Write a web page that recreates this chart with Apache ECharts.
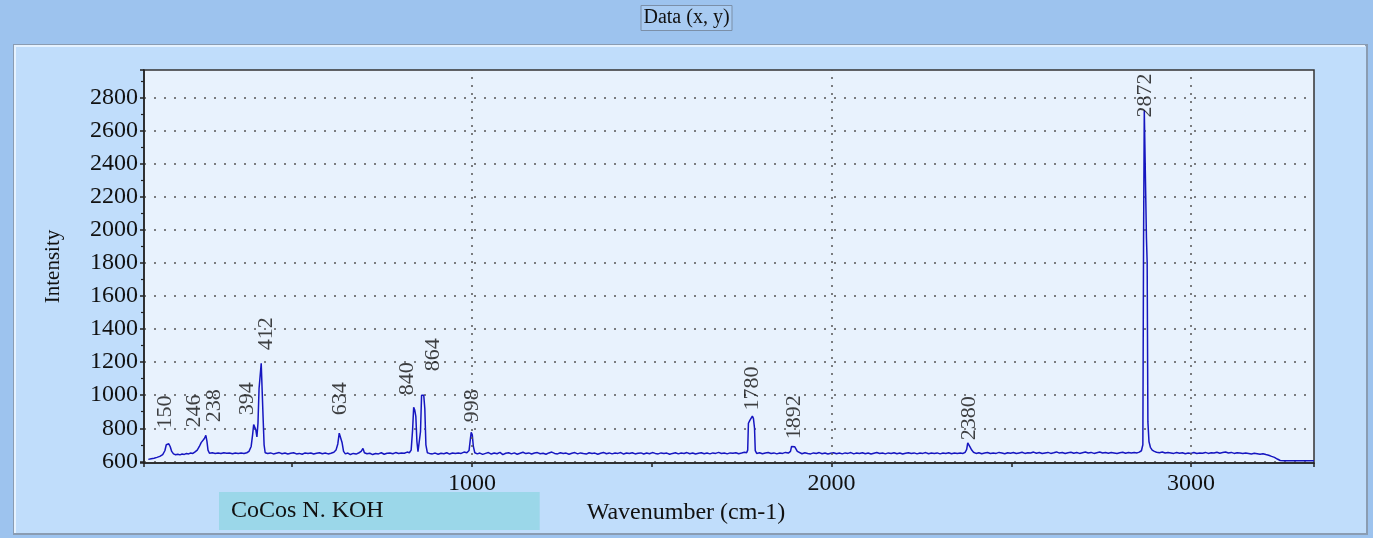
<!DOCTYPE html>
<html>
<head>
<meta charset="utf-8">
<title>Data (x, y)</title>
<script src="https://cdn.jsdelivr.net/npm/echarts/dist/echarts.min.js"></script>
<style>
  html, body { margin: 0; padding: 0; background: #9dc3ee; }
  #mChart { width: 1373px; height: 538px; }
</style>
</head>
<body>
<div id="mChart"></div>
<script>
  // spectrum: wavenumber (cm-1) and intensity
  let wavenumber = [
    100,108,116,124,132,140,146,150,153,157,161,165,170,176,182,188,194,200,206,212,218,224,230,236,242,247,252,256,260,263,266,270,
    278,286,294,302,310,318,326,334,342,350,358,366,374,380,386,390,393,396,399,402,405,408,411,414,417,419,422,425,
    432,440,448,456,464,472,480,488,496,504,512,520,528,536,544,552,560,568,576,584,592,600,608,616,622,627,631,635,639,643,648,
    655,662,670,678,686,692,697,701,708,716,724,732,740,748,756,764,772,780,788,796,804,812,820,826,831,835,838,841,844,847,850,854,857,860,866,869,872,876,
    882,890,898,906,914,922,930,938,946,954,962,970,978,986,992,996,998,1001,1004,1008,
    1015,1022,1030,1038,1046,1054,1062,1070,1078,1086,1094,1102,1110,1118,1126,1134,1142,1150,1158,1166,1174,1182,1190,1198,
    1206,1214,1222,1230,1238,1246,1254,1262,1270,1278,1286,1294,1302,1310,1318,1326,1334,1342,1350,1358,1366,1374,1382,1390,1398,
    1406,1414,1422,1430,1438,1446,1454,1462,1470,1478,1486,1494,1502,1510,1518,1526,1534,1542,1550,1558,1566,1574,1582,1590,1598,
    1606,1614,1622,1630,1638,1646,1654,1662,1670,1678,1686,1694,1702,1710,1718,1726,1734,1742,1750,1758,1764,1767,1769,1773,1777,1780,1783,1786,1788,1792,
    1800,1808,1816,1824,1832,1840,1848,1856,1864,1872,1880,1886,1889,1893,1898,1902,1905,1910,1918,1926,1934,1942,1950,1958,1966,1974,1982,1990,1998,
    2006,2014,2022,2030,2038,2046,2054,2062,2070,2078,2086,2094,2102,2110,2118,2126,2134,2142,2150,2158,2166,2174,2182,2190,2198,
    2206,2214,2222,2230,2238,2246,2254,2262,2270,2278,2286,2294,2302,2310,2318,2326,2334,2342,2350,2358,2366,2372,2376,2379,2382,2386,2390,2395,
    2402,2410,2418,2426,2434,2442,2450,2458,2466,2474,2482,2490,2498,2506,2514,2522,2530,2538,2546,2554,2562,2570,2578,2586,2594,
    2602,2610,2618,2626,2634,2642,2650,2658,2666,2674,2682,2690,2698,2706,2714,2722,2730,2738,2746,2754,2762,2770,2778,2786,2794,
    2802,2810,2818,2826,2834,2842,2850,2856,2862,2866,2868,2870,2874,2876,2878,2880,2883,2887,2892,2898,
    2904,2912,2920,2928,2936,2944,2952,2960,2968,2976,2984,2992,3000,3008,3016,3024,3032,3040,3048,3056,3064,3072,3080,3088,3096,
    3104,3112,3120,3128,3136,3144,3152,3160,3168,3176,3184,3192,3200,3208,3216,3224,3232,3240,3248,3260,3280,3300,3320,3342
  ];
  let intensity = [
    612,616,619,624,630,641,664,700,710,706,688,660,645,640,643,639,644,642,647,645,650,648,657,668,690,713,718,738,757,722,668,649,
    652,648,651,647,652,649,650,646,651,648,650,647,652,660,690,760,822,815,790,748,830,1040,1036,1192,1190,878,700,652,
    648,651,645,649,653,646,650,644,649,652,645,648,643,651,647,650,644,649,652,646,650,645,649,655,668,705,770,772,712,660,645,
    650,641,648,644,652,660,678,652,646,649,641,647,645,652,643,649,650,646,653,647,651,649,656,652,668,790,926,910,872,720,658,655,780,1000,1000,918,700,652,
    648,645,650,643,649,646,652,644,650,647,651,648,656,652,665,740,775,760,690,652,
    645,650,642,648,653,644,650,646,654,641,649,652,645,651,643,649,655,647,651,644,650,653,646,649,
    643,651,656,648,645,652,647,650,643,649,653,645,651,647,644,652,648,650,643,649,654,646,651,645,650,
    648,653,644,650,647,652,645,649,651,644,650,646,653,648,645,651,647,650,643,648,652,645,650,647,653,
    646,650,644,649,652,646,650,645,651,648,654,647,650,645,651,649,652,646,650,655,652,668,830,848,860,874,858,800,665,648,
    652,646,650,653,647,651,645,650,648,654,650,660,690,692,688,680,660,650,646,652,648,645,651,647,653,646,650,644,649,
    652,646,650,645,651,648,653,645,650,647,652,646,650,644,649,653,647,650,645,651,648,652,646,650,644,
    649,652,647,651,645,650,648,653,646,650,647,651,645,650,648,652,646,650,647,651,648,655,672,712,700,684,668,655,
    648,652,646,650,653,647,651,648,654,650,646,652,649,653,647,651,655,648,652,650,656,649,653,647,651,
    654,648,652,657,650,653,647,652,655,649,653,648,652,656,650,654,648,652,656,650,653,649,654,651,648,
    652,655,649,653,650,654,651,656,664,700,1950,2721,2721,1950,1800,840,720,685,668,660,
    655,652,656,650,654,651,648,653,649,652,646,650,648,653,647,651,649,654,648,652,650,655,649,653,656,
    650,654,648,652,650,647,651,648,645,649,646,643,646,641,637,630,624,614,605,603,603,603,603,603
  ];

  // peak annotations: text, position of the text foot (x in cm-1, y in intensity)
  let peakLabels = ['150', '246', '238', '394', '412', '634', '840', '864', '998', '1780', '1892', '2380', '2872'];
  let peakLabelX = [146, 229, 282, 374, 427, 633, 819, 892, 1000, 1779, 1896, 2382, 2872];
  let peakLabelY = [799, 805, 836, 878, 1271, 878, 999, 1144, 836, 908, 733, 727, 2678];

  // dotted vertical grid lines
  let gridX = [1000, 2000, 3000];

  let serif = '"Liberation Serif", "Times New Roman", serif';

  let myChart = echarts.init(document.getElementById('mChart'));

  myChart.setOption({
    backgroundColor: '#9dc3ee',
    animation: false,
    title: {
      text: 'Data (x, y)',
      left: 'center',
      top: 5,
      padding: [3, 3, 3, 3],
      backgroundColor: '#a8cbf2',
      borderColor: '#7b8fa8',
      borderWidth: 1,
      textStyle: { fontFamily: serif, fontSize: 20, fontWeight: 'normal', color: '#111' }
    },
    graphic: [
      {
        type: 'rect',
        z: -10,
        shape: { x: 14, y: 45, width: 1353, height: 489 },
        style: { fill: '#c0ddfb', stroke: '#8a9cb2', lineWidth: 2 }
      },
      {
        type: 'polyline',
        z: -9,
        shape: { points: [[15, 533], [15, 46], [1365, 46]] },
        style: { stroke: '#e6f2fe', lineWidth: 2, fill: null }
      }
    ],
    legend: {
      data: ['CoCos N. KOH'],
      left: 219,
      top: 492,
      orient: 'horizontal',
      icon: 'rect',
      itemWidth: 0,
      itemHeight: 22,
      padding: [7, 156, 7, 7],
      backgroundColor: '#9bd7e9',
      selectedMode: false,
      textStyle: { fontFamily: serif, fontSize: 24, color: '#111' }
    },
    grid: {
      left: 144,
      top: 70,
      width: 1170,
      height: 393,
      show: true,
      backgroundColor: '#e8f2fd',
      borderColor: '#333',
      borderWidth: 1.5
    },
    xAxis: {
      type: 'value',
      min: 88,
      max: 3342,
      name: 'Wavenumber (cm-1)',
      nameLocation: 'middle',
      nameGap: 36,
      nameTextStyle: { fontFamily: serif, fontSize: 24, color: '#111', padding: [0, 86, 0, 0] },
      axisLine: { show: true, lineStyle: { color: '#222', width: 1.5 } },
      axisTick: { show: true, length: 4, lineStyle: { color: '#222', width: 1.5 } },
      axisLabel: {
        margin: 9,
        fontFamily: serif,
        fontSize: 24,
        color: '#111',
        formatter: function (v) { return v % 1000 === 0 ? String(v) : ''; }
      },
      splitLine: { show: false }
    },
    yAxis: {
      type: 'value',
      min: 590,
      max: 2965,
      splitNumber: 12,
      name: 'Intensity',
      nameLocation: 'middle',
      nameRotate: 90,
      nameGap: 80,
      nameTextStyle: { fontFamily: serif, fontSize: 21, color: '#111' },
      axisLine: { show: true, lineStyle: { color: '#222', width: 1.5 } },
      axisTick: { show: true, length: 4, lineStyle: { color: '#222', width: 1.5 } },
      minorTick: { show: true, splitNumber: 2, length: 3, lineStyle: { color: '#222', width: 1.2 } },
      axisLabel: {
        margin: 6,
        fontFamily: serif,
        fontSize: 24,
        color: '#111',
        formatter: function (v) { return v % 200 === 0 ? String(v) : ''; }
      },
      splitLine: {
        show: true,
        showMinLine: false,
        showMaxLine: false,
        lineStyle: { color: '#555', width: 1.5, type: [2, 8] }
      }
    },
    series: [
      {
        name: 'CoCos N. KOH',
        type: 'line',
        showSymbol: false,
        symbol: 'none',
        lineStyle: { color: '#1616c0', width: 1.5 },
        itemStyle: { color: '#9bd7e9' },
        data: wavenumber.map(function (x, i) { return [x, intensity[i]]; }),
        markLine: {
          silent: true,
          symbol: 'none',
          label: { show: false },
          lineStyle: { color: '#555', width: 1.5, type: [2, 6] },
          data: gridX.map(function (x) { return { xAxis: x }; })
        },
        z: 3
      },
      {
        name: 'peaks',
        type: 'scatter',
        silent: true,
        symbolSize: 0,
        data: peakLabelX.map(function (x, i) { return { value: [x, peakLabelY[i]], name: peakLabels[i] }; }),
        label: {
          show: true,
          position: 'inside',
          rotate: 90,
          align: 'left',
          verticalAlign: 'middle',
          fontFamily: serif,
          fontSize: 22,
          color: '#111',
          formatter: function (p) { return p.name; }
        },
        z: 4
      }
    ]
  });
</script>
</body>
</html>
